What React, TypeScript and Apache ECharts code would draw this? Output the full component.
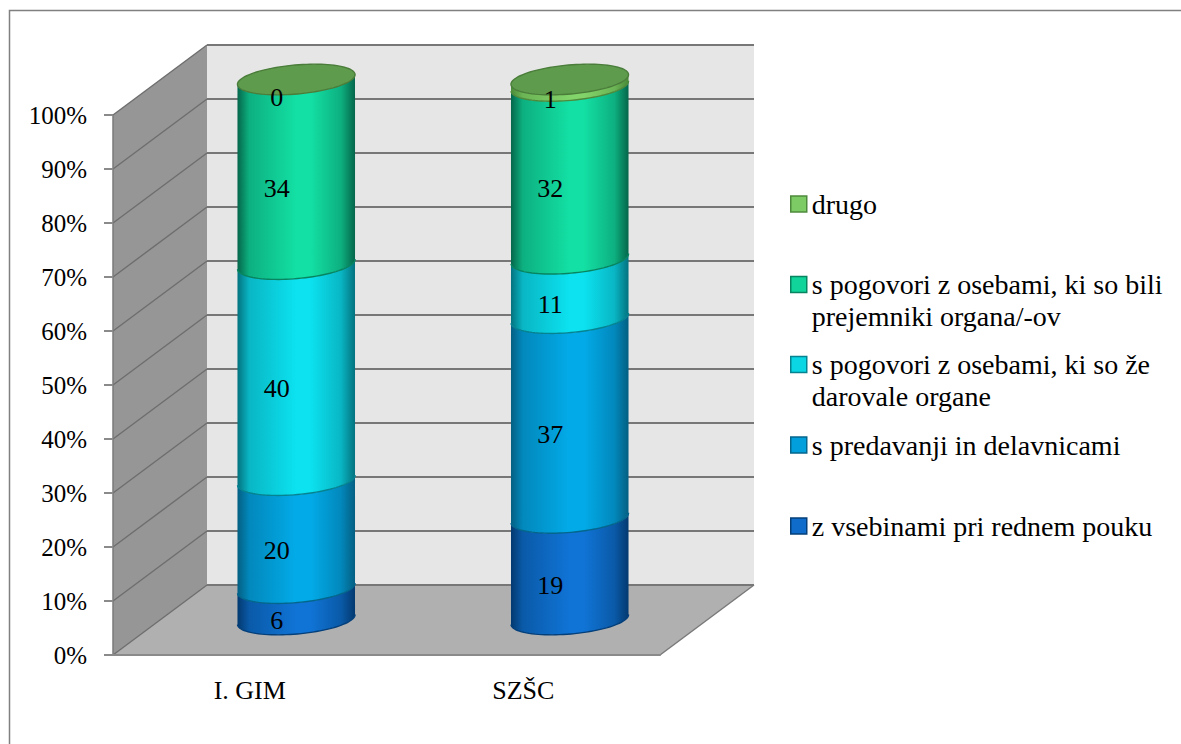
import React, { useEffect, useRef } from "react";
import * as echarts from "echarts";

const categories = ["I. GIM", "SZŠC"];
const seriesNames = [
  "z vsebinami pri rednem pouku",
  "s predavanji in delavnicami",
  "s pogovori z osebami, ki so že darovale organe",
  "s pogovori z osebami, ki so bili prejemniki organa/-ov",
  "drugo",
];
const vsebinami = [6, 19];
const predavanji = [20, 37];
const zeDarovale = [40, 11];
const prejemniki = [34, 32];
const drugo = [0, 1];
const seriesValues = [vsebinami, predavanji, zeDarovale, prejemniki, drugo];
const yTicks = [0, 10, 20, 30, 40, 50, 60, 70, 80, 90, 100];

const FONT = "Liberation Serif";
const DX = 94;
const DY = -70;
const CX = 46.5;
const CY = -35.5;
const RX = 59;
const RY = 14.5;
const TILT = (-5 * Math.PI) / 180;
const BOUNDARY_DROP = 1;

const palette = [
  { flat: "#0F6CCB", dark: "#03396F", mid: "#0A5AA8", light: "#1074D6", line: "#043F7A" },
  { flat: "#01A0DC", dark: "#045F82", mid: "#0288BC", light: "#02ABE8", line: "#04668C" },
  { flat: "#0AD6E4", dark: "#04727F", mid: "#09B6C4", light: "#0CE2F0", line: "#068390" },
  { flat: "#10D49A", dark: "#05664B", mid: "#0DB080", light: "#13E0A4", line: "#078560" },
  { flat: "#7CCB64", dark: "#4A8A38", mid: "#6CB455", light: "#82D36A", line: "#4E8A3C" },
];

const ellipsePt = (cx: number, cy: number, t: number) => {
  const a = RX * Math.cos(t);
  const b = RY * Math.sin(t);
  return [cx + a * Math.cos(TILT) - b * Math.sin(TILT), cy + a * Math.sin(TILT) + b * Math.cos(TILT)];
};
const frontArc = (cx: number, cy: number) => {
  const pts: number[][] = [];
  for (let i = 0; i <= 48; i++) pts.push(ellipsePt(cx, cy, (Math.PI * i) / 48));
  return pts;
};
const fullEllipse = (cx: number, cy: number) => {
  const pts: number[][] = [];
  for (let i = 0; i < 96; i++) pts.push(ellipsePt(cx, cy, (Math.PI * 2 * i) / 96));
  return pts;
};

const cylinderSeries = (idx: number) => {
  const c = palette[idx];
  const data = categories.map((_, i) => {
    let base = 0;
    for (let s = 0; s < idx; s++) base += seriesValues[s][i];
    return [i, base, base + seriesValues[idx][i]];
  });
  return {
    type: "custom",
    name: seriesNames[idx],
    coordinateSystem: "cartesian2d",
    z: 3 + idx,
    silent: true,
    itemStyle: { color: c.flat },
    encode: { x: 0, y: [1, 2] },
    data,
    renderItem: (_: any, api: any) => {
      const low = api.coord([api.value(0), api.value(1)]);
      const high = api.coord([api.value(0), api.value(2)]);
      const cx = low[0] + CX;
      const isFloor = api.value(1) === 0;
      const isTop = api.value(2) === 100;
      const yb = low[1] + CY + (isFloor ? 0 : BOUNDARY_DROP);
      const yt = high[1] + CY + (isTop ? 0 : BOUNDARY_DROP);
      const children: any[] = [];
      const bottom = frontArc(cx, yb);
      const top = frontArc(cx, yt).reverse();
      // arcs run from right (t=0) to left (t=PI); top reversed runs left to right
      const poly = [...bottom, ...top];
      if (api.value(2) > api.value(1)) {
        children.push({
          type: "polygon",
          shape: { points: poly },
          style: {
            fill: new echarts.graphic.LinearGradient(0, 0, 1, 0, [
              { offset: 0, color: c.dark },
              { offset: 0.1, color: c.mid },
              { offset: 0.5, color: c.light },
              { offset: 0.62, color: c.light },
              { offset: 0.88, color: c.mid },
              { offset: 1, color: c.dark },
            ]),
          },
        });
        children.push({
          type: "polyline",
          shape: { points: bottom },
          style: { stroke: c.line, lineWidth: 1.4, fill: "none" },
        });
      }
      if (isTop && idx === seriesNames.length - 1) {
        children.push({
          type: "polygon",
          shape: { points: fullEllipse(cx, yt) },
          style: { fill: "#5E9B4C", stroke: "#4A7D3A", lineWidth: 1.4 },
        });
      }
      return { type: "group", children };
    },
  };
};

const wallSeries = {
  type: "custom",
  coordinateSystem: "cartesian2d",
  z: 1,
  silent: true,
  data: [[0, 0]],
  encode: { x: 0, y: 1 },
  renderItem: (params: any) => {
    const { x, y, width: w, height: h } = params.coordSys;
    const stroke = { stroke: "#7a7a7a", lineWidth: 1.5 };
    return {
      type: "group",
      children: [
        { type: "polygon", shape: { points: [[x + DX, y + DY], [x + w + DX, y + DY], [x + w + DX, y + h + DY], [x + DX, y + h + DY]] }, style: { fill: "#E6E6E6" } },
        { type: "polygon", shape: { points: [[x, y], [x + DX, y + DY], [x + DX, y + h + DY], [x, y + h]] }, style: { fill: "#969696" } },
        { type: "polygon", shape: { points: [[x, y + h], [x + DX, y + h + DY], [x + w + DX, y + h + DY], [x + w, y + h]] }, style: { fill: "#B0B0B0" } },
        { type: "line", shape: { x1: x + w, y1: y + h, x2: x + w + DX, y2: y + h + DY }, style: stroke },
      ],
    };
  },
};

const gridSeries = {
  type: "custom",
  coordinateSystem: "cartesian2d",
  z: 2,
  silent: true,
  data: yTicks.map((v) => [0, v]),
  encode: { x: 0, y: 1 },
  renderItem: (params: any, api: any) => {
    const { x, width: w } = params.coordSys;
    const yy = api.coord([0, api.value(1)])[1];
    return {
      type: "group",
      children: [
        { type: "line", shape: { x1: x, y1: yy, x2: x + DX, y2: yy + DY }, style: { stroke: "#6e6e6e", lineWidth: 1.4 } },
        { type: "line", shape: { x1: x + DX, y1: yy + DY, x2: x + w + DX, y2: yy + DY }, style: { stroke: "#777777", lineWidth: 1.8 } },
      ],
    };
  },
};

const labelData: number[][] = [];
seriesValues.forEach((vals) => {
  vals.forEach((v, i) => {
    let base = 0;
    for (const s of seriesValues) {
      if (s === vals) break;
      base += s[i];
    }
    labelData.push([i, base + v / 2, v]);
  });
});

const labelSeries = {
  type: "custom",
  coordinateSystem: "cartesian2d",
  z: 20,
  silent: true,
  data: labelData,
  encode: { x: 0, y: 1 },
  renderItem: (_: any, api: any) => {
    const p = api.coord([api.value(0), api.value(1)]);
    return {
      type: "text",
      x: p[0] + 27,
      y: p[1] - 18,
      style: {
        text: String(api.value(2)),
        fill: "#000000",
        font: `26px "${FONT}"`,
        align: "center",
        verticalAlign: "middle",
      },
    };
  },
};

// A leading blank line centres the first text line on the legend marker.
const legendBreaks: Record<string, string> = {
  "s pogovori z osebami, ki so bili prejemniki organa/-ov": "\ns pogovori z osebami, ki so bili\nprejemniki organa/-ov",
  "s pogovori z osebami, ki so že darovale organe": "\ns pogovori z osebami, ki so že\ndarovale organe",
};

const legendRows: { name: string; top: number; border: string }[] = [
  { name: seriesNames[4], top: 188, border: "#4E8A3C" },
  { name: seriesNames[3], top: 236.5, border: "#078560" },
  { name: seriesNames[2], top: 316.5, border: "#068390" },
  { name: seriesNames[1], top: 429, border: "#04668C" },
  { name: seriesNames[0], top: 510, border: "#043F7A" },
];

export default function App() {
  const ref = useRef<HTMLDivElement>(null);
  useEffect(() => {
    const chart = echarts.init(ref.current!, undefined, { renderer: "svg" });
    chart.setOption({
      animation: false,
      backgroundColor: "#ffffff",
      grid: { left: 113, top: 115, width: 547, height: 540, containLabel: false },
      graphic: [
        {
          type: "rect",
          shape: { x: 9.5, y: 10.5, width: 2000, height: 2000 },
          style: { fill: "none", stroke: "#808080", lineWidth: 1.5 },
          silent: true,
        },
      ],
      xAxis: {
        type: "category",
        data: categories,
        z: 10,
        axisLine: { lineStyle: { color: "#8a8a8a", width: 2 } },
        axisTick: { length: 9, lineStyle: { color: "#7a7a7a", width: 1.5 } },
        axisLabel: { color: "#000", fontFamily: FONT, fontSize: 26, margin: 22 },
      },
      yAxis: {
        type: "value",
        min: 0,
        max: 100,
        interval: 10,
        z: 10,
        axisLine: { show: true, lineStyle: { color: "#7a7a7a", width: 1.5 } },
        axisTick: { show: true, length: 9, lineStyle: { color: "#8a8a8a", width: 2 } },
        axisLabel: { color: "#000", fontFamily: FONT, fontSize: 25, margin: 26, formatter: "{value}%" },
        splitLine: { show: false },
      },
      legend: legendRows.map((r) => ({
        data: [r.name],
        left: 790,
        top: r.top,
        icon: "rect",
        itemWidth: 16,
        itemHeight: 16,
        padding: 0,
        selectedMode: false,
        itemStyle: { borderColor: r.border, borderWidth: 1.5 },
        formatter: (n: string) => legendBreaks[n] || n,
        textStyle: {
          color: "#000",
          fontFamily: FONT,
          fontSize: 28,
          lineHeight: 32,
        },
      })),
      series: [
        wallSeries,
        gridSeries,
        ...seriesNames.map((_, i) => cylinderSeries(i)),
        labelSeries,
      ],
    });
    return () => chart.dispose();
  }, []);
  return <div ref={ref} style={{ position: "fixed", left: 0, top: 0, width: 1181, height: 744 }} />;
}
